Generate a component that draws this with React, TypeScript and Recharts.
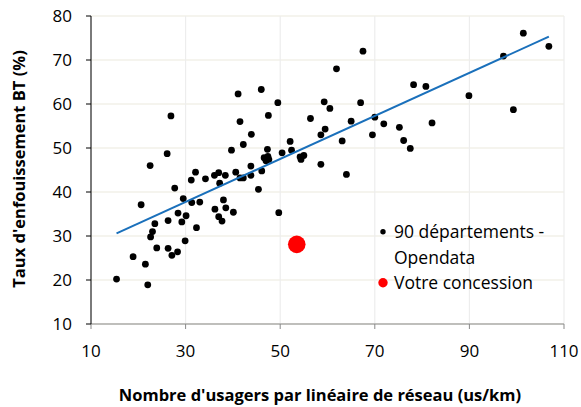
import React from 'react';
import { ScatterChart, Scatter, XAxis, YAxis, CartesianGrid, Legend } from 'recharts';

const deptX = [
  26.9, 41.1, 46.0, 49.5, 47.5, 41.5, 43.9, 42.2, 39.7, 26.1,
  22.5, 47.3, 46.6, 47.4, 47.0, 47.6, 43.8, 50.4, 52.1, 52.4,
  54.2, 55.0, 54.4, 56.4, 58.6, 59.5, 59.3, 60.5, 58.6, 101.4,
  106.8, 97.2, 67.5, 61.9, 78.2, 80.8, 89.9, 99.3, 67.0, 70.0,
  65.0, 71.9, 82.1, 75.2, 69.5, 63.1, 76.1, 77.5, 64.0, 46.1,
  40.6, 32.1, 31.2, 34.2, 36.1, 37.0, 38.4, 37.2, 41.5, 42.2,
  43.8, 45.4, 27.7, 20.6, 29.5, 31.3, 33.0, 38.0, 36.2, 38.5,
  40.1, 28.4, 30.1, 26.3, 29.2, 37.0, 37.7, 23.5, 32.3, 23.0,
  22.6, 29.9, 23.9, 26.3, 28.3, 27.1, 18.9, 21.5, 15.4, 22.0,
  49.7,
];
const deptY = [
  57.3, 62.3, 63.3, 60.3, 57.4, 56.0, 53.1, 50.8, 49.5, 48.7,
  46.0, 49.7, 47.8, 48.1, 47.1, 47.4, 45.9, 48.9, 51.5, 49.5,
  48.0, 48.3, 47.4, 56.7, 53.0, 54.3, 60.5, 59.0, 46.3, 76.1,
  73.1, 70.9, 72.0, 68.0, 64.4, 64.0, 61.9, 58.7, 60.3, 57.0,
  56.1, 55.5, 55.7, 54.7, 53.0, 51.6, 51.7, 49.9, 44.0, 44.8,
  44.5, 44.5, 42.7, 43.0, 43.8, 44.4, 43.8, 42.0, 43.2, 43.2,
  43.8, 40.6, 40.9, 37.1, 38.5, 37.6, 37.7, 38.2, 36.1, 36.4,
  35.4, 35.2, 34.6, 33.5, 33.2, 34.4, 33.4, 32.8, 31.9, 31.0,
  29.8, 28.9, 27.3, 27.2, 26.4, 25.6, 25.3, 23.6, 20.2, 18.9,
  35.3,
];
const concessionX = [53.5];
const concessionY = [28.1];
const trendX = [15.4, 106.8];
const trendY = [30.6, 75.3];
const xTicks = [10, 30, 50, 70, 90, 110];
const yTicks = [10, 20, 30, 40, 50, 60, 70, 80];
const seriesNames = ['90 départements - Opendata', 'Votre concession'];
const xTitle = "Nombre d'usagers par linéaire de réseau (us/km)";
const yTitle = "Taux d'enfouissement BT (%)";

const deptData = deptX.map((x, i) => ({ x, y: deptY[i] }));
const concessionData = concessionX.map((x, i) => ({ x, y: concessionY[i] }));
const trendData = trendX.map((x, i) => ({ x, y: trendY[i] }));

const FONT = '"Open Sans", sans-serif';

const BlackDot = (p: any) => <circle cx={p.cx} cy={p.cy} r={3.4} fill="#000" />;
const RedDot = (p: any) => <circle cx={p.cx} cy={p.cy} r={8.8} fill="#FF0000" />;
const NoDot = () => <g />;

const renderLegend = (props: any) => {
  const payload = (props.payload || []).filter((e: any) => e.type !== 'none');
  return (
    <div style={{ fontFamily: FONT, fontSize: 17.5, lineHeight: '25.5px', color: '#000' }}>
      {payload.map((entry: any, i: number) => {
        const isRed = entry.value === seriesNames[1];
        const r = isRed ? 4.7 : 2.7;
        return (
          <div key={i} style={{ display: 'flex', alignItems: 'flex-start' }}>
            <svg width={12} height={25.5} style={{ flex: 'none' }}>
              <circle cx={6} cy={12.75} r={r} fill={isRed ? '#FF0000' : '#000'} />
            </svg>
            <span style={{ marginLeft: 5, width: 175, display: 'block' }}>{entry.value}</span>
          </div>
        );
      })}
    </div>
  );
};

const renderYTitle = () => (
  <text x={18} y={169} transform="rotate(-90, 18, 169)" textAnchor="middle" dominantBaseline="central"
    fontFamily={FONT} fontWeight="bold" fontSize={16.5} fill="#000">{yTitle}</text>
);
const renderXTitle = () => (
  <text x={320} y={394} textAnchor="middle" dominantBaseline="central"
    fontFamily={FONT} fontWeight="bold" fontSize={16.5} fill="#000">{xTitle}</text>
);

export default function App() {
  return (
    <div style={{ position: 'absolute', left: 0, top: 0, background: '#fff' }}>
      <ScatterChart width={581} height={407} margin={{ top: 16, right: 17, bottom: 0, left: 0 }}
        style={{ fontFamily: FONT }}>
        <CartesianGrid vertical={false} stroke="#ECE9DD" strokeWidth={1.2} />
        <CartesianGrid horizontal={false} stroke="#EDEDED" strokeWidth={1.2} />
        <XAxis type="number" dataKey="x" domain={[10, 110]} ticks={xTicks} height={83}
          axisLine={{ stroke: '#898989' }} tickLine={{ stroke: '#898989' }} tickSize={5} tickMargin={16}
          tick={{ fill: '#000', fontSize: 17, fontFamily: FONT }} interval={0}
          label={{ content: renderXTitle }} />
        <YAxis type="number" dataKey="y" domain={[10, 80]} ticks={yTicks} width={91}
          axisLine={{ stroke: '#000' }} tickLine={{ stroke: '#000' }} tickSize={5} tickMargin={14}
          tick={{ fill: '#000', fontSize: 17, fontFamily: FONT }} interval={0}
          label={{ content: renderYTitle }} />
        <Scatter name={seriesNames[0]} data={deptData} fill="#000" shape={BlackDot} isAnimationActive={false} />
        <Scatter name="trend" data={trendData} fill="#1A70BB" legendType="none" shape={NoDot}
          line={{ stroke: '#1A70BB', strokeWidth: 2 }} isAnimationActive={false} />
        <Scatter name={seriesNames[1]} data={concessionData} fill="#FF0000" shape={RedDot} isAnimationActive={false} />
        <Legend layout="vertical" align="center" verticalAlign="middle" content={renderLegend}
          wrapperStyle={{ left: 377, top: 219, width: 200 }} />
      </ScatterChart>
    </div>
  );
}
